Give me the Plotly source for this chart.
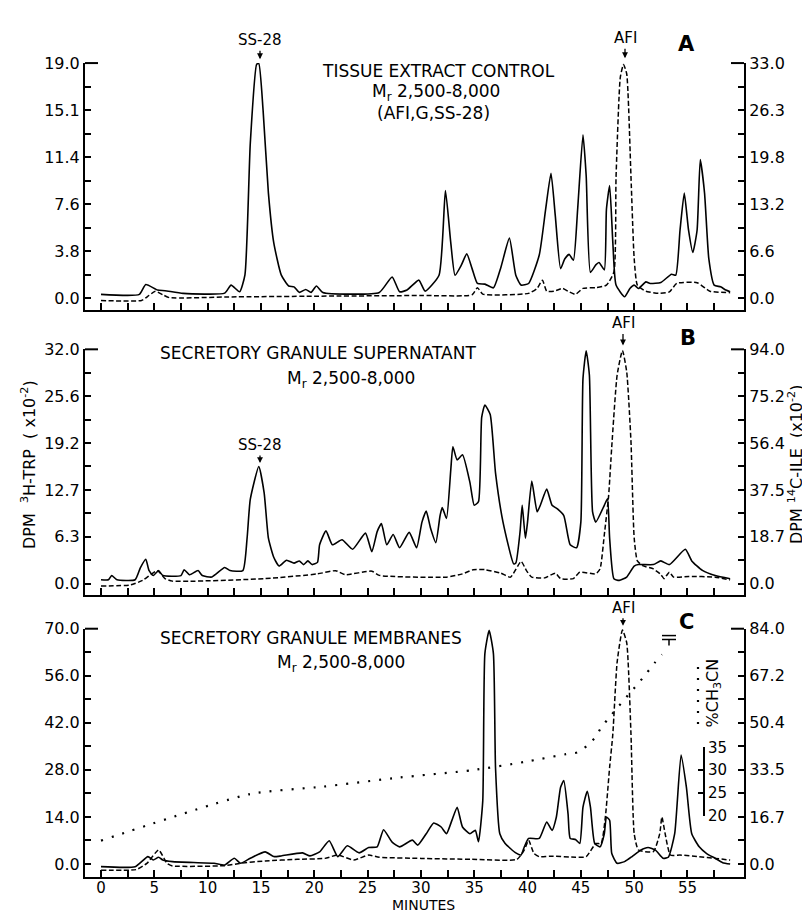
import plotly.graph_objects as go

# =========================================================
# DATA  (minutes / DPM x10^-2)
# =========================================================
X_TICKS = [0, 2.5, 5, 7.5, 10, 12.5, 15, 17.5, 20, 22.5, 25, 27.5,
           30, 32.5, 35, 37.5, 40, 42.5, 45, 47.5, 50, 52.5, 55, 57.5]
X_TICK_LABELS = ["0", "", "5", "", "10", "", "15", "", "20", "", "25", "",
                 "30", "", "35", "", "40", "", "45", "", "50", "", "55", ""]

A_LEFT_TICKS = ["19.0", "15.1", "11.4", "7.6", "3.8", "0.0"]
A_RIGHT_TICKS = ["33.0", "26.3", "19.8", "13.2", "6.6", "0.0"]
B_LEFT_TICKS = ["32.0", "25.6", "19.2", "12.7", "6.3", "0.0"]
B_RIGHT_TICKS = ["94.0", "75.2", "56.4", "37.5", "18.7", "0.0"]
C_LEFT_TICKS = ["70.0", "56.0", "42.0", "28.0", "14.0", "0.0"]
C_RIGHT_TICKS = ["84.0", "67.2", "50.4", "33.5", "16.7", "0.0"]
CH3CN_TICKS = [20, 25, 30, 35]

# panel A : tissue extract control
A_TRP_MIN = [0, 3.6, 4.2, 5.3, 6.0, 7.7, 11.6, 12.2, 13.0, 13.5, 14.0, 14.6, 14.8, 15.2,
             15.7, 16.2, 16.9, 17.6, 18.1, 18.6, 19.2, 19.7, 20.2, 20.8, 26.1, 27.3, 28.0,
             28.7, 29.8, 30.4, 31.7, 32.3, 32.8, 33.2, 33.8, 34.3, 34.8, 35.3, 36.0, 36.8,
             37.5, 38.3, 38.9, 39.4, 40.1, 41.1, 41.7, 42.2, 42.6, 43.1, 43.5, 43.9, 44.3,
             44.7, 45.2, 45.5, 45.9, 46.4, 46.7, 47.2, 47.4, 47.7, 48.0, 48.3, 49.1, 49.6,
             50.0, 50.4, 51.1, 51.5, 52.5, 53.5, 53.9, 54.3, 54.7, 55.1, 55.5, 55.9, 56.2,
             56.6, 57.0, 57.5, 58.1, 58.6, 59.0]
A_TRP_VAL = [0.32, 0.32, 1.12, 0.67, 0.62, 0.4, 0.42, 1.07, 0.53, 1.9, 12.5, 18.9, 18.95, 15.2,
             8.5, 4.5, 1.9, 1.0, 0.93, 0.48, 0.72, 0.48, 1.0, 0.48, 0.48, 1.73, 0.53,
             0.67, 1.47, 0.58, 1.87, 8.7, 4.5, 1.87, 2.7, 3.6, 2.4, 1.2, 1.15, 0.85,
             2.5, 4.86, 1.87, 1.07, 1.2, 3.5, 7.2, 10.1, 6.7, 2.4, 3.2, 3.55, 3.07,
             7.2, 13.2, 9.9, 2.1, 2.7, 2.9, 2.3, 7.2, 9.1, 4.5, 1.07, 0.13, 0.8,
             1.07, 0.8, 1.33, 1.2, 1.28, 1.95, 1.87, 5.5, 8.5, 5.5, 3.7, 5.5, 11.2,
             8.5, 3.2, 1.07, 0.93, 0.67, 0.53]
A_ILE_MIN = [0, 3.8, 4.5, 5.1, 5.8, 6.4, 12, 20, 30, 34.8, 35.3, 35.8, 40.1, 40.9, 41.4,
             41.8, 42.5, 43.3, 43.8, 44.5, 45.2, 46.4, 47.4, 48.1, 48.3, 48.7, 49.0, 49.3,
             49.7, 50.0, 50.3, 51.1, 52.3, 53.3, 54.0, 55.9, 57.1, 59.0]
A_ILE_VAL = [-0.3, -0.3, 0.4, 1.0, 0.5, 0.1, 0.2, 0.3, 0.4, 0.5, 1.5, 0.6, 0.7, 1.4, 2.55,
             1.0, 1.0, 1.4, 1.0, 0.56, 1.4, 1.5, 1.85, 3.7, 17.0, 31.0, 32.8, 31.5,
             17.1, 5.6, 1.85, 1.0, 0.7, 0.9, 2.1, 2.2, 1.0, 0.8]

# panel B : secretory granule supernatant
B_TRP_MIN = [0, 0.7, 1.0, 1.5, 3.2, 3.7, 4.2, 4.5, 4.9, 5.4, 5.8, 7.5, 7.8, 8.3, 9.1, 9.5,
             10.4, 11.6, 12.1, 13.3, 13.7, 14.0, 14.8, 15.3, 15.7, 16.2, 16.7, 17.4, 18.1,
             18.6, 19.0, 19.4, 19.8, 20.3, 20.5, 21.1, 21.7, 22.6, 23.6, 24.8, 25.4, 25.9,
             26.3, 26.8, 27.4, 28.0, 28.9, 29.6, 30.1, 30.5, 30.9, 31.4, 31.8, 32.0, 32.4,
             32.8, 33.0, 33.4, 33.9, 34.6, 35.0, 35.4, 35.7, 36.0, 36.5, 37.0, 37.7, 38.7,
             38.9, 39.3, 39.5, 39.8, 40.0, 40.4, 40.9, 41.2, 41.8, 42.3, 42.8, 43.4, 44.0,
             44.6, 45.0, 45.2, 45.5, 45.8, 46.1, 46.4, 47.2, 47.5, 47.7, 48.1, 48.6, 49.3,
             50.0, 50.4, 51.8, 52.5, 53.3, 54.8, 55.4, 56.4, 57.6, 59.0]
B_TRP_VAL = [0.53, 0.53, 1.1, 0.53, 0.53, 2.2, 3.33, 1.8, 1.1, 1.78, 1.1, 1.1, 1.9, 1.2, 1.78, 1.1,
             0.9, 2.2, 1.78, 1.78, 6.2, 11.5, 16.0, 12.4, 6.2, 3.6, 2.4, 3.2, 2.8,
             3.1, 2.6, 3.1, 2.6, 2.9, 5.3, 7.2, 5.3, 6.0, 4.7, 6.9, 4.35, 7.1,
             8.2, 5.3, 6.7, 4.9, 7.0, 4.9, 8.4, 9.9, 7.6, 5.6, 9.3, 10.4, 8.9,
             15.5, 18.7, 16.9, 17.6, 13.8, 10.7, 11.2, 22.7, 24.4, 23.1, 15.1, 8.4, 2.7,
             2.8, 7.1, 10.7, 6.2, 8.4, 14.0, 9.8, 10.7, 12.9, 10.7, 10.2, 9.3, 5.3,
             4.9, 8.4, 28.0, 31.8, 28.5, 9.8, 8.4, 10.7, 11.6, 6.2, 0.67, 0.44, 0.9,
             2.4, 2.6, 2.6, 3.1, 2.6, 4.7, 3.1, 1.8, 1.1, 0.67]
B_ILE_MIN = [0, 2.8, 3.9, 5.3, 6.0, 6.7, 15.4, 20.3, 22.0, 22.9, 25.4, 26.1, 32.4, 33.9,
             34.9, 36.0, 37.5, 38.4, 39.4, 39.9, 40.4, 41.6, 42.6, 43.1, 44.3, 44.9, 46.4,
             46.8, 47.2, 47.6, 47.9, 48.4, 48.9, 49.3, 49.7, 50.0, 50.3, 50.8, 51.8, 52.5,
             52.8, 53.3, 53.7, 55.1, 57.6, 59.0]
B_ILE_VAL = [-1.0, -0.5, 1.3, 5.2, 2.0, 1.0, 2.0, 3.9, 5.2, 3.6, 5.0, 3.3, 2.6, 3.9,
             5.6, 5.6, 4.2, 2.6, 8.9, 5.2, 2.6, 2.3, 4.2, 2.0, 2.0, 4.6, 3.9,
             5.9, 19.6, 35.0, 55.0, 83.6, 93.5, 85.0, 57.0, 18.3, 9.1, 7.2, 5.9, 3.65,
             2.0, 4.6, 2.6, 2.9, 2.6, 1.5]

# panel C : secretory granule membranes
C_TRP_MIN = [0, 3.2, 4.4, 4.9, 5.4, 5.8, 6.7, 10.6, 11.6, 12.5, 13.1, 14.0, 15.4, 16.2, 16.9,
             18.9, 19.6, 20.5, 21.4, 22.2, 23.1, 24.2, 25.1, 25.9, 26.5, 27.3, 28.0, 29.2,
             29.7, 30.5, 31.2, 31.9, 32.4, 32.9, 33.4, 33.9, 34.6, 35.1, 35.4, 35.8, 36.0,
             36.4, 36.8, 37.0, 37.4, 37.9, 38.9, 39.4, 39.7, 40.1, 41.1, 41.8, 42.3, 42.7,
             43.1, 43.4, 43.8, 44.0, 44.5, 44.9, 45.2, 45.6, 45.9, 46.3, 46.8, 47.2, 47.4,
             47.7, 47.9, 48.4, 49.1, 49.8, 50.6, 51.3, 52.0, 52.7, 53.2, 53.8, 54.4, 54.9,
             55.4, 56.1, 56.8, 57.6, 58.3, 59.0]
C_TRP_VAL = [-0.8, -0.8, 2.2, 1.2, 2.0, 1.2, 0.7, 0.2, -0.3, 1.7, 0.2, 1.7, 3.6, 2.2, 2.4,
             3.3, 2.4, 3.6, 6.9, 2.2, 5.4, 3.3, 4.9, 5.1, 10.2, 6.5, 5.1, 7.1,
             5.6, 9.0, 12.2, 11.0, 9.0, 12.9, 16.9, 11.0, 9.0, 10.0, 6.6, 18.7, 62.6,
             69.5, 62.6, 28.5, 9.0, 6.1, 3.3, 2.7, 5.1, 7.6, 7.6, 12.5, 10.0, 13.9,
             22.8, 24.8, 14.9, 7.6, 7.3, 6.1, 16.9, 21.6, 16.9, 6.1, 5.1, 9.0, 14.0,
             13.0, 3.1, 0.2, 0.7, 2.2, 4.1, 4.9, 4.1, 1.7, 2.0, 9.0, 32.4, 22.8,
             9.0, 5.1, 3.1, 1.7, 0.4, 0.0]
C_ILE_MIN = [0, 3.3, 4.3, 5.4, 6.2, 6.7, 11.6, 13.0, 15.4, 18.4, 21.0, 22.2, 23.7, 25.1,
             26.1, 30.0, 34.8, 39.0, 39.7, 40.1, 40.6, 41.1, 42.1, 44.5, 45.5, 46.4, 46.9,
             47.3, 47.7, 48.0, 48.4, 48.9, 49.3, 49.7, 50.0, 50.4, 51.8, 52.4, 52.6, 52.9,
             53.4, 54.3, 56.1, 57.6, 59.0]
C_ILE_VAL = [-2.2, -2.0, 0.2, 5.0, 0.2, -0.7, -0.6, 0.2, 1.1, 1.65, 2.0, 3.2, 1.4, 3.2,
             2.4, 2.0, 1.65, 1.65, 5.0, 8.5, 3.8, 2.6, 2.8, 2.4, 2.6, 7.3, 7.3,
             16.8, 34.6, 46.4, 72.0, 83.5, 79.0, 46.4, 10.9, 5.0, 4.4, 10.9, 16.8, 10.9,
             3.2, 3.2, 2.6, 2.0, 1.4]

# acetonitrile gradient (% CH3CN)
CH3CN_MIN = [0, 14, 20.8, 28, 34.8, 39.7, 43.6, 44.7, 45.6, 46.4, 46.9, 47.7, 48.4, 49.1,
             49.8, 50.5, 51.2, 51.9, 52.6]
CH3CN_PCT = [14.6, 24.8, 26.4, 28.4, 30.0, 31.8, 33.5, 33.9, 35.4, 37.3, 39.3, 41.6, 43.6, 45.5,
             47.4, 49.3, 51.3, 53.4, 55.3]

# =========================================================
# GEOMETRY (pixel layout of the 810 x 914 page)
# =========================================================
W, H = 810, 914
FONT = "DejaVu Sans"
X_LEFT, X_RIGHT = 77, 736
X_RANGE = [-1.5, 60.3]


def px(x):
    return x / W


def py(y):
    return 1 - y / H


# (top tick px, zero px, axis line px, left max, right max)
PANELS = {
    "A": (47, 287, 299, 19.0, 33.0),
    "B": (339, 578, 590, 32.0, 94.0),
    "C": (624, 864, 877, 70.0, 84.0),
}

fig = go.Figure()

solid = dict(color="black", width=1.6, shape="spline", smoothing=0.5)
dashed = dict(color="black", width=1.5, dash="5px,2.5px", shape="spline", smoothing=0.5)

fig.add_trace(go.Scatter(x=A_TRP_MIN, y=A_TRP_VAL, xaxis="x", yaxis="y", mode="lines", line=solid))
fig.add_trace(go.Scatter(x=A_ILE_MIN, y=A_ILE_VAL, xaxis="x", yaxis="y2", mode="lines", line=dashed))
fig.add_trace(go.Scatter(x=B_TRP_MIN, y=B_TRP_VAL, xaxis="x2", yaxis="y3", mode="lines", line=solid))
fig.add_trace(go.Scatter(x=B_ILE_MIN, y=B_ILE_VAL, xaxis="x2", yaxis="y4", mode="lines", line=dashed))
fig.add_trace(go.Scatter(x=C_TRP_MIN, y=C_TRP_VAL, xaxis="x3", yaxis="y5", mode="lines", line=solid))
fig.add_trace(go.Scatter(x=C_ILE_MIN, y=C_ILE_VAL, xaxis="x3", yaxis="y6", mode="lines", line=dashed))
fig.add_trace(go.Scatter(x=CH3CN_MIN, y=CH3CN_PCT, xaxis="x3", yaxis="y7", mode="lines",
                         line=dict(color="black", width=2.2, dash="2px,9px",
                                   shape="spline", smoothing=0.6)))
# empty trace so the little %CH3CN scale gets drawn
fig.add_trace(go.Scatter(x=[None], y=[None], xaxis="x3", yaxis="y8", mode="lines"))

tick_font = dict(family=FONT, size=16, color="black")


def y_ticks(vmax, labels):
    vals, text = [], []
    step = vmax / 5
    for i in range(11):
        v = vmax - i * step / 2
        vals.append(v)
        text.append(labels[i // 2] if i % 2 == 0 else "")
    return vals, text


layout_axes = {}
names = [("A", "", "2", "y", "y2", A_LEFT_TICKS, A_RIGHT_TICKS, "x"),
         ("B", "3", "4", "y3", "y4", B_LEFT_TICKS, B_RIGHT_TICKS, "x2"),
         ("C", "5", "6", "y5", "y6", C_LEFT_TICKS, C_RIGHT_TICKS, "x3")]
xnames = {"x": "xaxis", "x2": "xaxis2", "x3": "xaxis3"}

shapes = []
for key, lnum, rnum, ly, ry, lt, rt, xa in names:
    top, zero, base, lmax, rmax = PANELS[key]
    per_px = lmax / (zero - top)
    lmin = -(base - zero) * per_px
    rmin = lmin * rmax / lmax
    dom = [py(base), py(top)]
    lv, ltx = y_ticks(lmax, lt)
    rv, rtx = y_ticks(rmax, rt)
    layout_axes["yaxis" + lnum] = dict(
        domain=dom, range=[lmin, lmax], anchor=xa, showline=True, linecolor="black",
        linewidth=2, ticks="inside", ticklen=6, tickwidth=2, tickcolor="black",
        tickvals=lv, ticktext=ltx, tickfont=tick_font, showgrid=False, zeroline=False,
        fixedrange=True,
    )
    layout_axes["yaxis" + rnum] = dict(
        overlaying=ly, side="right", range=[rmin, rmax], anchor=xa, showline=True,
        linecolor="black", linewidth=2, ticks="inside", ticklen=6, tickwidth=2,
        tickcolor="black", tickvals=rv, ticktext=rtx, tickfont=tick_font,
        showgrid=False, zeroline=False,
    )
    layout_axes[xnames[xa]] = dict(
        domain=[px(X_LEFT), px(X_RIGHT)], range=X_RANGE, anchor=ly, showline=True,
        linecolor="black", linewidth=2, ticks="inside", ticklen=7, tickwidth=2,
        tickcolor="black", tickvals=X_TICKS, ticktext=X_TICK_LABELS,
        showticklabels=(key == "C"), tickfont=dict(family=FONT, size=15, color="black"),
        ticklabelstandoff=-4, showgrid=False, zeroline=False,
    )
    # longer hooks at the top of both vertical scales
    shapes.append(dict(type="line", xref="paper", yref="paper", x0=px(X_LEFT), x1=px(X_LEFT + 13),
                       y0=py(top), y1=py(top), line=dict(color="black", width=2)))
    shapes.append(dict(type="line", xref="paper", yref="paper", x0=px(X_RIGHT - 13), x1=px(X_RIGHT),
                       y0=py(top), y1=py(top), line=dict(color="black", width=2)))

# %CH3CN axis: 20 % at y=815 px, 35 % at y=745 px
top, zero, base, _, _ = PANELS["C"]
pct_per_px = 15 / (815 - 745)
layout_axes["yaxis7"] = dict(
    overlaying="y5", range=[20 - (base - 815) * pct_per_px, 20 + (815 - top) * pct_per_px],
    visible=False, showgrid=False, zeroline=False,
)
layout_axes["yaxis8"] = dict(
    domain=[py(815), py(745)], range=[20, 35], anchor="free", position=px(696), side="right",
    showline=True, linecolor="black", linewidth=2, ticks="inside", ticklen=5, tickwidth=2,
    tickcolor="black", tickvals=CH3CN_TICKS, tickfont=dict(family=FONT, size=15, color="black"),
    showgrid=False, zeroline=False,
)

# solvent-end symbol and dotted legend key in panel C
for y in (631, 635):
    shapes.append(dict(type="line", xref="paper", yref="paper", x0=px(654), x1=px(668),
                       y0=py(y), y1=py(y), line=dict(color="black", width=1.5)))
shapes.append(dict(type="line", xref="paper", yref="paper", x0=px(661), x1=px(661),
                   y0=py(635), y1=py(641), line=dict(color="black", width=1.5)))
shapes.append(dict(type="line", xref="paper", yref="paper", x0=px(690), x1=px(690),
                   y0=py(663), y1=py(728), line=dict(color="black", width=2.2, dash="2px,9px")))


def text(x, y, s, size=16, bold=False, angle=0, xanchor="center"):
    return dict(xref="paper", yref="paper", x=px(x), y=py(y), text=f"<b>{s}</b>" if bold else s,
                showarrow=False, xanchor=xanchor, yanchor="middle", textangle=angle,
                font=dict(family=FONT, size=size, color="black"))


def arrow_label(x, y_text, y_tip, s):
    return dict(xref="paper", yref="paper", x=px(x), y=py(y_tip), ax=0, ay=-(y_tip - y_text),
                text=s, showarrow=True, arrowhead=2, arrowsize=0.9, arrowwidth=1.3,
                arrowcolor="black", font=dict(family=FONT, size=15, color="black"))


annotations = [
    text(430, 55, "TISSUE EXTRACT CONTROL", size=17),
    text(428, 77, "M<sub>r</sub> 2,500-8,000", size=17),
    text(425, 98, "(AFI,G,SS-28)", size=17),
    text(310, 343, "SECRETORY GRANULE SUPERNATANT", size=17),
    text(343, 370, "M<sub>r</sub> 2,500-8,000", size=17),
    text(303, 633, "SECRETORY GRANULE MEMBRANES", size=17),
    text(333, 659, "M<sub>r</sub> 2,500-8,000", size=17),
    text(678, 28, "A", size=21, bold=True),
    text(680, 327, "B", size=21, bold=True),
    text(678, 617, "C", size=21, bold=True),
    arrow_label(252, 24, 43, "SS-28"),
    arrow_label(617, 22, 42, "AFI"),
    arrow_label(252, 437, 455, "SS-28"),
    arrow_label(615, 313, 335, "AFI"),
    arrow_label(615, 603, 621, "AFI"),
    text(415, 906, "MINUTES", size=14),
    text(20, 457, "DPM  <sup>3</sup>H-TRP  ( x10<sup>-2</sup>)", angle=-90),
    text(787, 457, "DPM <sup>14</sup>C-ILE  (x10<sup>-2</sup>)", angle=-90),
    text(705, 690, "%CH<sub>3</sub>CN", size=16, angle=-90),
]

fig.update_layout(
    width=W, height=H,
    margin=dict(l=0, r=0, t=0, b=0),
    paper_bgcolor="white", plot_bgcolor="rgba(0,0,0,0)",
    showlegend=False,
    font=dict(family=FONT, color="black"),
    shapes=shapes, annotations=annotations,
    **layout_axes,
)

fig.write_html("out.html")
